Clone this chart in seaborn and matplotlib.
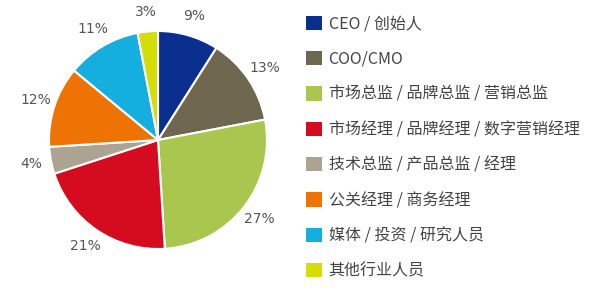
import matplotlib
matplotlib.use("Agg")
import matplotlib.pyplot as plt
import matplotlib.patches as mpatches
import seaborn as sns

categories = ["CEO / 创始人", "COO/CMO", "市场总监 / 品牌总监 / 营销总监",
              "市场经理 / 品牌经理 / 数字营销经理", "技术总监 / 产品总监 / 经理",
              "公关经理 / 商务经理", "媒体 / 投资 / 研究人员", "其他行业人员"]
values = [9, 13, 27, 21, 4, 12, 11, 3]
colors = ["#0b2f8e", "#6f6650", "#a9c74f", "#d50b1f", "#aca392",
          "#ee7204", "#14afdf", "#d5dd08"]

sns.set_theme(style="white")
plt.rcParams['font.family'] = ['Noto Sans CJK SC', 'DejaVu Sans']

fig = plt.figure(figsize=(6.0, 3.01), dpi=100)
ax = fig.add_axes([49/600, (301-140-109)/301, 218/600, 218/301])
wedges, texts, autotexts = ax.pie(
    values, colors=colors, startangle=90, counterclock=False,
    autopct=lambda p: f"{p:.0f}%", pctdistance=1.18,
    wedgeprops=dict(edgecolor="white", linewidth=1.5),
    textprops=dict(color="#555555", fontsize=10, family="DejaVu Sans"))
ax.set_xlim(-1, 1)
ax.set_ylim(-1, 1)
ax.set_aspect("equal")

handles = [mpatches.Patch(facecolor=c, edgecolor="none", label=l)
           for c, l in zip(colors, categories)]
fig.legend(handles=handles, loc="upper left",
           bbox_to_anchor=(303/600, 1 - 12/301), frameon=False,
           fontsize=11.5, handlelength=1.0, handleheight=1.0,
           handletextpad=0.4, labelspacing=1.15, labelcolor="#444444",
           borderaxespad=0, borderpad=0.2)

fig.savefig("out.png", dpi=100, facecolor="white")
